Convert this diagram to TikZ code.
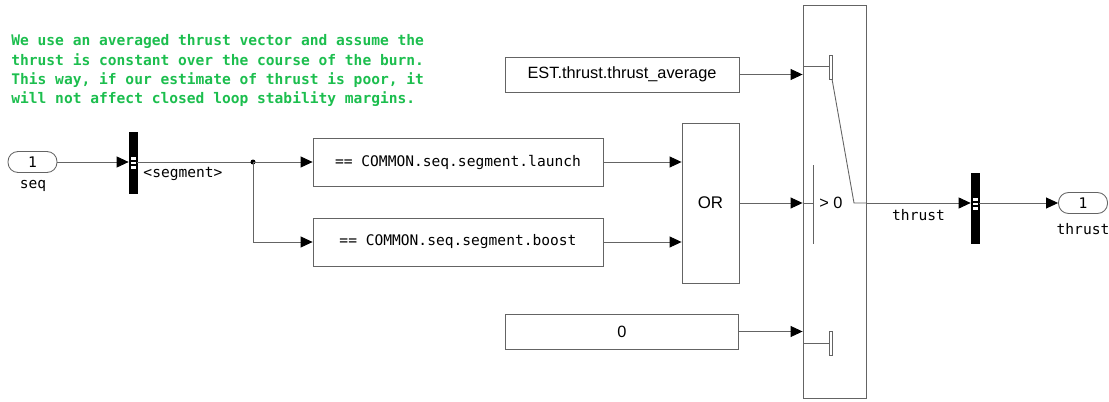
\documentclass[tikz,border=0pt]{standalone}
\usepackage{fontspec}
\usetikzlibrary{arrows.meta}
\newfontfamily\monof{DejaVu Sans Mono}
\newfontfamily\sansf{Liberation Sans}
\definecolor{notegreen}{RGB}{28,190,78}
\definecolor{wiregray}{RGB}{100,100,100}

\tikzset{
  blk/.style={draw=wiregray, line width=0.5pt, inner sep=0pt, fill=white},
  sig/.style={draw=wiregray, line width=0.5pt,
    -{Triangle[length=0.24cm,width=0.22cm,color=black]}},
  wire/.style={draw=wiregray, line width=0.5pt},
  bar/.style={fill=black, draw=black, inner sep=0pt, minimum width=0.16cm},
  inport/.style={blk, rounded corners=0.2cm, minimum width=0.98cm, minimum height=0.42cm, font=\monof\fontsize{8.3}{10}\selectfont},
  lbl/.style={inner sep=0pt, font=\monof\fontsize{8.3}{10}\selectfont},
  sanslbl/.style={inner sep=0pt, font=\sansf\fontsize{9.3}{11}\selectfont}
}

\begin{document}
\begin{tikzpicture}[x=0.02cm,y=-0.02cm]
  \useasboundingbox (0,0) rectangle (1109,402);

  % note
  \node[anchor=north west, inner sep=0pt, align=left, text=notegreen,
    font=\monof\bfseries\fontsize{8.3}{10.9}\selectfont] (note) at (11,34.5)
    {We use an averaged thrust vector and assume the\\
     thrust is constant over the course of the burn.\\
     This way, if our estimate of thrust is poor, it\\
     will not affect closed loop stability margins.};

  % blocks
  \node[inport] (seq) at (32.5,162) {1};
  \node[lbl] (seqlbl) at (33,186) {seq};
  \node[bar, minimum height=1.22cm] (bussel) at (133,162.5) {};
  \node[blk, minimum width=5.8cm, minimum height=0.96cm, font=\monof\fontsize{8.3}{10}\selectfont] (launch) at (458,162) {== COMMON.seq.segment.launch};
  \node[blk, minimum width=5.8cm, minimum height=0.96cm, font=\monof\fontsize{8.3}{10}\selectfont] (boost) at (458,242) {== COMMON.seq.segment.boost};
  \node[blk, minimum width=1.14cm, minimum height=3.2cm, font=\sansf\fontsize{9.6}{11}\selectfont] (orblk) at (710.5,203) {OR};
  \node[blk, minimum width=4.68cm, minimum height=0.7cm, font=\sansf\fontsize{9.3}{11}\selectfont] (estavg) at (622,74.5) {EST.thrust.thrust\_average};
  \node[blk, minimum width=4.66cm, minimum height=0.7cm, font=\sansf\fontsize{9.3}{11}\selectfont] (zero) at (622,331.5) {0};
  \node[blk, minimum width=1.26cm, minimum height=7.86cm] (swtch) at (834.5,201.5) {};
  \node[bar, minimum height=1.4cm] (buscr) at (975,208) {};
  \node[inport] (thrustout) at (1083,203) {1};
  \node[lbl] (thrustlbl) at (1083,229) {thrust};

  % bus markers
  \fill[white] (130.5,157) rectangle (135.5,169);
  \draw[black, line width=0.6pt] (130.5,161) -- (135.5,161) (130.5,165) -- (135.5,165);
  \fill[white] (972.5,198) rectangle (977.5,210);
  \draw[black, line width=0.6pt] (972.5,202) -- (977.5,202) (972.5,206) -- (977.5,206);

  % switch inside
  \draw[wire] (803,66) -- (829,66);
  \draw[wire, fill=white] (829,55) rectangle (832,79);
  \draw[wire] (832,79) -- (854,203) -- (866,203);
  \draw[wire] (803,203) -- (813,203);
  \draw[wire] (813,165) -- (813,244);
  \node[sanslbl] (thresh) at (831,203) {> 0};
  \draw[wire] (803,343) -- (829,343);
  \draw[wire, fill=white] (829,331) rectangle (832,355);

  % wires
  \coordinate (split) at (253,162);
  \draw[sig] (seq.east) -- (seq.east -| bussel.west);
  \draw[wire] (bussel.east |- split) -- (split);
  \node[lbl] (seglbl) at (183,174) {<segment>};
  \fill[black] (split) circle [radius=0.05cm];
  \draw[sig] (split) -- (launch.west);
  \draw[sig] (split) |- (boost.west);
  \draw[sig] (launch.east) -- (launch.east -| orblk.west);
  \draw[sig] (boost.east) -- (boost.east -| orblk.west);
  \draw[sig] (orblk.east) -- (orblk.east -| swtch.west);
  \draw[sig] (estavg.east) -- (estavg.east -| swtch.west);
  \draw[sig] (zero.east) -- (zero.east -| swtch.west);
  \draw[sig] (swtch.east |- orblk.east) -- (buscr.west |- orblk.east)
    node[midway, below=0.12cm, lbl] {thrust};
  \draw[sig] (buscr.east |- thrustout.west) -- (thrustout.west);
\end{tikzpicture}
\end{document}
